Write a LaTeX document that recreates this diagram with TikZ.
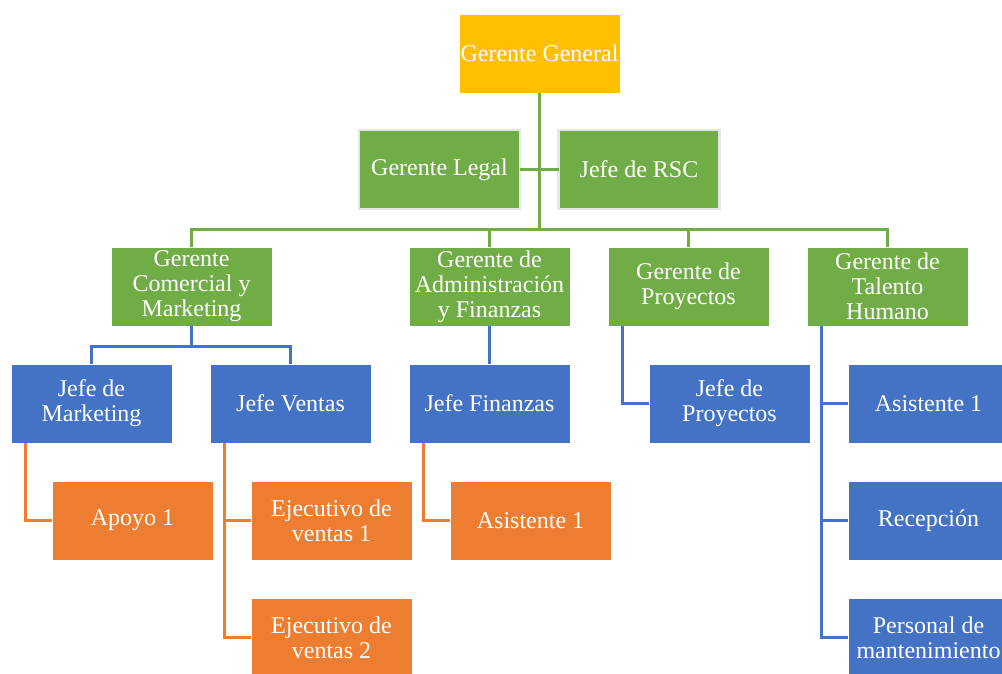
\documentclass[tikz,border=0pt]{standalone}
\usepackage{xcolor}
\definecolor{off1}{HTML}{FFC000}
\definecolor{off2}{HTML}{70AD47}
\definecolor{off3}{HTML}{4472C4}
\definecolor{off4}{HTML}{ED7D31}
\definecolor{off5}{HTML}{E7E6E6}
\usepackage{fontspec}
\setmainfont{Liberation Serif}
\usepackage{tikz}
\usetikzlibrary{positioning,calc}

\begin{document}
\begin{tikzpicture}[
  x=1pt, y=-1pt, %pixel grid
  every node/.append style={font=\fontsize{24}{25}\selectfont, text=white, align=center},
  unit/.style={rectangle, minimum width=161pt, minimum height=79pt, inner sep=1pt, outer sep=0pt, draw=white, line width=0.4pt},
  chief/.style={unit, fill=off1},
  staff/.style={unit, fill=off2, draw=off5, line width=2.5pt},
  manager/.style={unit, fill=off2},
  head/.style={unit, fill=off3},
  aide/.style={unit, fill=off4},
  link/.style={line width=3pt}
  ]
  \useasboundingbox (0,0) rectangle (1002,673);

  % top
  \node[chief] (gg) at (539.5,53.5) {Gerente General};
  \node[staff] (legal) at (439.5,169.5) {Gerente Legal};
  \node[staff] (rsc) at (639,169.5) {Jefe de RSC};

  % managers
  \node[manager] (com) at (191.5,286.5) {Gerente\\Comercial y\\Marketing};
  \node[manager] (adm) at (489.5,286.5) {Gerente de\\Administración\\y Finanzas};
  \node[manager] (pro) at (688.5,286.5) {Gerente de\\Proyectos};
  \node[manager] (tal) at (887.5,286.5) {Gerente de\\Talento\\Humano};

  % heads
  \node[head] (jm) at (91.5,403.5) {Jefe de\\Marketing};
  \node[head] (jv) at (290.5,403.5) {Jefe Ventas};
  \node[head] (jf) at (489.5,403.5) {Jefe Finanzas};
  \node[head] (jp) at (729.5,403.5) {Jefe de\\Proyectos};
  \node[head] (as1) at (928.5,403.5) {Asistente 1};
  \node[head] (rec) at (928.5,520.5) {Recepción};
  \node[head] (pm) at (928.5,637.5) {Personal de\\mantenimiento};

  % aides
  \node[aide] (ap) at (132.5,520.5) {Apoyo 1};
  \node[aide] (ev1) at (331.5,520.5) {Ejecutivo de\\ventas 1};
  \node[aide] (ev2) at (331.5,637.5) {Ejecutivo de\\ventas 2};
  \node[aide] (as2) at (530.5,520.5) {Asistente 1};

  \coordinate (bus) at (539.5,229);
  \coordinate (cbus) at (191.5,346);

  % green links
  \begin{scope}[link, draw=off2]
    \draw (gg.south) -- (bus);
    \draw (legal.east) -- (rsc.west);
    \draw (bus) -| (com.north);
    \draw (bus) -| (adm.north);
    \draw (bus) -| (pro.north);
    \draw (bus) -| (tal.north);
  \end{scope}

  % blue links
  \begin{scope}[link, draw=off3]
    \draw (com.south) -- (cbus) -| (jm.north);
    \draw (cbus) -| (jv.north);
    \draw (adm.south) -- (jf.north);
    \draw ([xshift=-66pt]pro.south) |- (jp.west);
    \draw ([xshift=-66pt]tal.south) |- (as1.west);
    \draw ([xshift=-66pt]tal.south) |- (rec.west);
    \draw ([xshift=-66pt]tal.south) |- (pm.west);
  \end{scope}

  % orange links
  \begin{scope}[link, draw=off4]
    \draw ([xshift=-66pt]jm.south) |- (ap.west);
    \draw ([xshift=-66pt]jv.south) |- (ev1.west);
    \draw ([xshift=-66pt]jv.south) |- (ev2.west);
    \draw ([xshift=-66pt]jf.south) |- (as2.west);
  \end{scope}

\end{tikzpicture}
\end{document}
